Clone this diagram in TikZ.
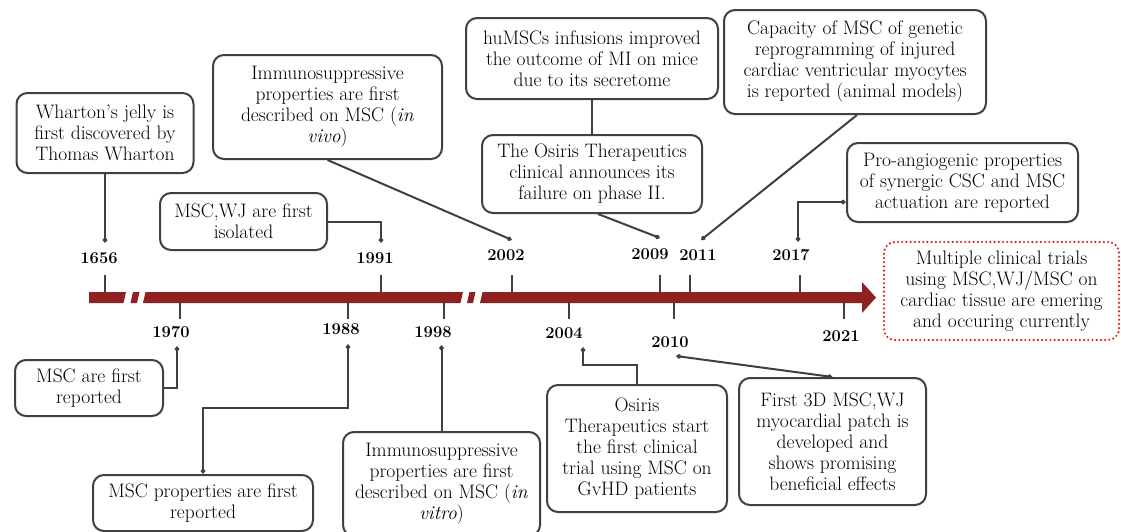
\documentclass[tikz,border=0pt]{standalone}
\usetikzlibrary{arrows.meta}
\definecolor{barred}{RGB}{145,32,32}
\definecolor{edgec}{RGB}{64,64,64}
\definecolor{dotred}{RGB}{222,30,30}
\begin{document}
\begin{tikzpicture}[x=1pt,y=-1pt,
 box/.style={draw=edgec,line width=2pt,rounded corners=11pt,align=center,inner sep=0pt,font=\fontsize{19.5}{21}\selectfont},
 yr/.style={font=\fontsize{16.5}{18}\selectfont\bfseries,inner sep=0pt},
 tickline/.style={draw=edgec,line width=2pt},
 conn/.style={draw=edgec,line width=2pt},
 mk/.style={-{Diamond[length=6pt,width=5pt]}},
 mkk/.style={{Diamond[length=6pt,width=5pt]}-{Diamond[length=6pt,width=5pt]}}
]
\useasboundingbox (0,0) rectangle (1121,531);
% timeline bar
\fill[barred] (89,303) -- (89,292) -- (126,292) -- (123.5,303) -- cycle;
\fill[barred] (130.5,303) -- (133,292) -- (139.5,292) -- (137,303) -- cycle;
\fill[barred] (143,303) -- (145.5,292) -- (463,292) -- (460.5,303) -- cycle;
\fill[barred] (467,303) -- (469.5,292) -- (475.5,292) -- (473,303) -- cycle;
\fill[barred] (480,303) -- (482.5,292) -- (862,292) -- (862,282) -- (876,297.5) -- (862,313) -- (862,303) -- cycle;
% ticks above
\foreach \x in {105,381,512,660,690,800} \draw[tickline] (\x,275) -- (\x,292);
% ticks below
\foreach \x in {180,348,444,569,674,844} \draw[tickline] (\x,303) -- (\x,319);
% year labels
\node[yr] (y1656) at (99,258) {1656};
\node[yr] (y1991) at (375,258) {1991};
\node[yr] (y2002) at (506,255) {2002};
\node[yr] (y2009) at (650,254) {2009};
\node[yr] (y2011) at (698,255) {2011};
\node[yr] (y2017) at (791,255) {2017};
\node[yr] (y1970) at (171,332) {1970};
\node[yr] (y1988) at (341,329) {1988};
\node[yr] (y1998) at (433,332) {1998};
\node[yr] (y2004) at (564,333) {2004};
\node[yr] (y2010) at (670,342) {2010};
\node[yr] (y2021) at (841,336) {2021};
% marker points
\coordinate (m1656) at (105,243);
\coordinate (m1991) at (381,243);
\coordinate (m2002) at (512,240);
\coordinate (m2009) at (660,238);
\coordinate (m2011) at (701,240);
\coordinate (m2017) at (798,242);
\coordinate (m1970) at (177,346);
\coordinate (m1988) at (348,344);
\coordinate (m1998) at (441.5,345);
\coordinate (m2004) at (583,347);
\coordinate (m2010) at (676,356);
% boxes
\node[box,minimum width=177pt,minimum height=80pt] (wharton) at (105,133) {Wharton’s jelly is\\first discovered by\\Thomas Wharton};
\node[box,minimum width=167pt,minimum height=57pt] (iso) at (243.5,221.5) {MSC,WJ are first\\isolated};
\node[box,minimum width=229pt,minimum height=104pt] (vivo) at (327.5,107) {Immunosuppressive\\properties are first\\described on MSC (\textit{in}\\\textit{vivo})};
\node[box,minimum width=252pt,minimum height=81pt] (hu) at (592,58.5) {huMSCs infusions improved\\the outcome of MI on mice\\due to its secretome};
\node[box,minimum width=220pt,minimum height=78pt] (osf) at (592,174) {The Osiris Therapeutics\\clinical announces its\\failure on phase II.};
\node[box,minimum width=262pt,minimum height=104pt] (cap) at (855,62) {Capacity of MSC of genetic\\reprogramming of injured\\cardiac ventricular myocytes\\is reported (animal models)};
\node[box,minimum width=231pt,minimum height=79pt] (pro) at (962.5,182.5) {Pro-angiogenic properties\\of synergic CSC and MSC\\actuation are reported};
\node[box,draw=dotred,line width=2.4pt,line cap=round,dash pattern=on 0pt off 4.2pt,minimum width=235pt,minimum height=98pt] (multi) at (1001.5,291) {Multiple clinical trials\\using MSC,WJ/MSC on\\cardiac tissue are emering\\and occuring currently};
\node[box,minimum width=148pt,minimum height=56pt] (msc70) at (89,388) {MSC are first\\reported};
\node[box,minimum width=220pt,minimum height=56pt] (prop) at (203,503) {MSC properties are first\\reported};
\node[box,minimum width=197pt,minimum height=104pt] (vitro) at (441.5,484) {Immunosuppressive\\properties are first\\described on MSC (\textit{in}\\\textit{vitro})};
\node[box,minimum width=180pt,minimum height=127pt] (oss) at (637,448.5) {Osiris\\Therapeutics start\\the first clinical\\trial using MSC on\\GvHD patients};
\node[box,minimum width=187pt,minimum height=127pt] (f3d) at (832.5,441.5) {First 3D MSC,WJ\\myocardial patch is\\developed and\\shows promising\\beneficial effects};
% connectors
\draw[conn,mk] (wharton.south) -- (m1656);
\draw[conn,mk] (iso.east) -| (m1991);
\draw[conn,mk] (vivo.south) -- (m2002);
\draw[conn] (hu.south) -- (osf.north);
\draw[conn,mk] ([xshift=6pt]osf.south) -- (m2009);
\draw[conn,mk] ([xshift=2pt]cap.south) -- (m2011);
\draw[conn,mkk] ([yshift=-19.5pt]pro.west) -| (m2017);
\draw[conn,mk] (msc70.east) -| (m1970);
\draw[conn,mkk] (prop.north) -- ++(0,-66) -| (m1988);
\draw[conn,mk] (vitro.north) -- (m1998);
\draw[conn,mk] (oss.north) -- ++(0,-19) -| (m2004);
\draw[conn,mkk] (f3d.north) -- (m2010);
\end{tikzpicture}
\end{document}
